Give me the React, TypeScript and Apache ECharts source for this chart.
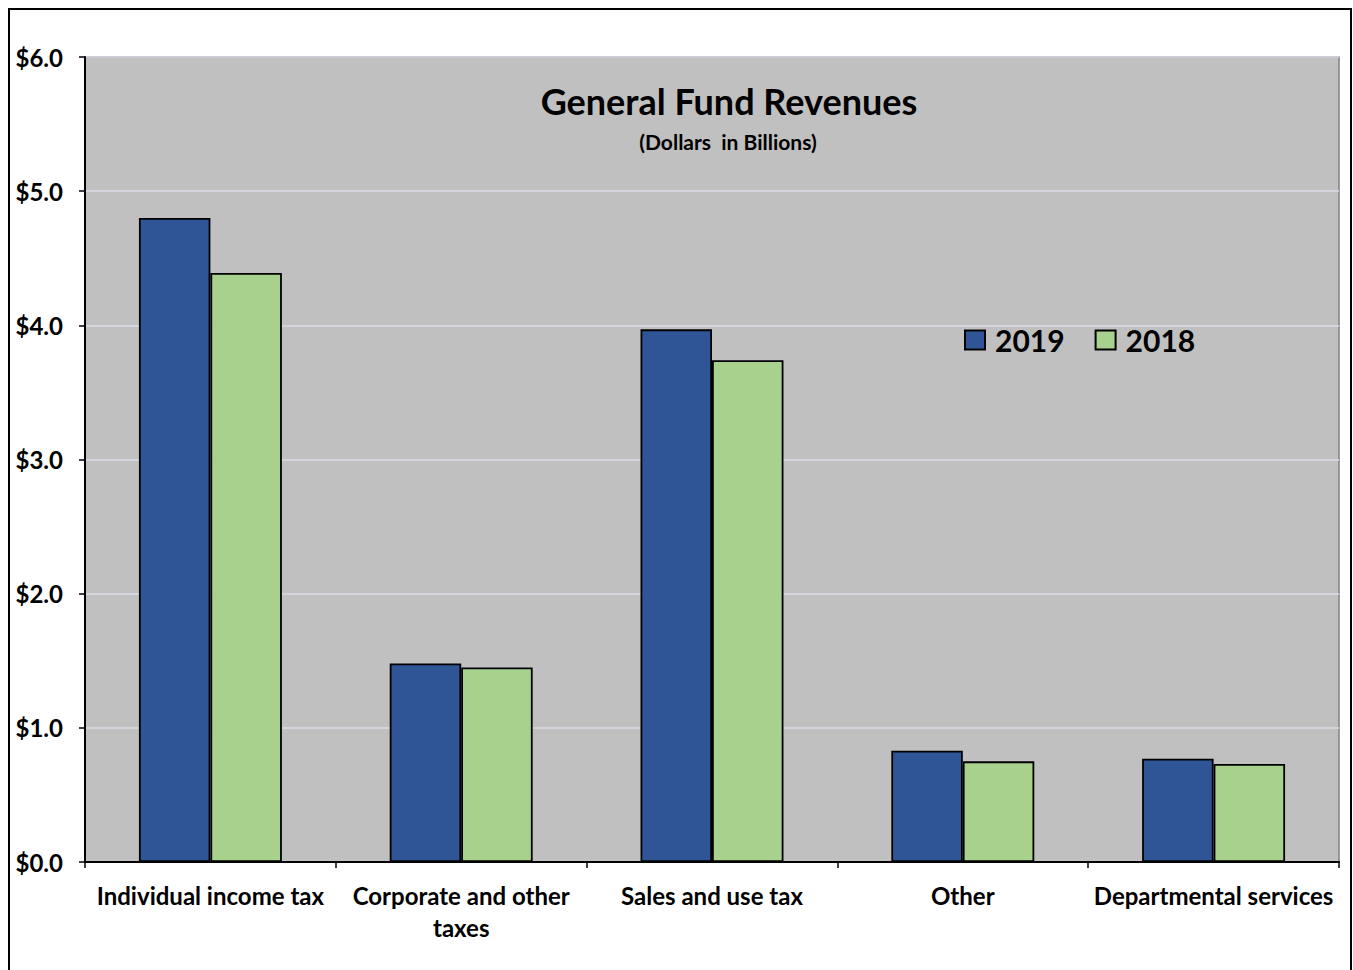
import React, { useEffect, useRef } from "react";
import * as echarts from "echarts";

const categories = [
  "Individual income tax",
  "Corporate and other\ntaxes",
  "Sales and use tax",
  "Other",
  "Departmental services",
];
const values2019 = [4.8, 1.48, 3.97, 0.83, 0.77];
const values2018 = [4.39, 1.45, 3.74, 0.75, 0.73];
const seriesNames = ["2019", "2018"];
const yTicks = { min: 0, max: 6, interval: 1 };

const FONT = "Lato, 'Open Sans', sans-serif";

export default function App() {
  const ref = useRef<HTMLDivElement>(null);
  useEffect(() => {
    if (!ref.current) return;
    const chart = echarts.init(ref.current, null, { renderer: "svg" });
    chart.setOption({
      animation: false,
      backgroundColor: "#ffffff",
      textStyle: { fontFamily: FONT },
      grid: {
        left: 85,
        top: 57,
        right: 14,
        bottom: 108,
        show: true,
        backgroundColor: "#C0C0C0",
        borderColor: "#808080",
        borderWidth: 1.5,
        containLabel: false,
      },
      legend: {
        left: 959,
        top: 320,
        icon: "rect",
        itemWidth: 20,
        itemHeight: 19,
        itemGap: 30,
        data: seriesNames,
        textStyle: {
          fontSize: 30,
          fontWeight: "bold",
          color: "#000",
          fontFamily: FONT,
          padding: [0, 0, 0, 5],
        },
      },
      xAxis: {
        type: "category",
        data: categories,
        axisLine: { show: true, lineStyle: { color: "#000", width: 2 } },
        axisTick: { show: true, alignWithLabel: false, length: 6, lineStyle: { color: "#000", width: 1.5 } },
        axisLabel: {
          interval: 0,
          margin: 17,
          fontSize: 24,
          fontWeight: "bold",
          color: "#000",
          lineHeight: 32,
          fontFamily: FONT,
        },
        splitLine: { show: false },
      },
      yAxis: {
        type: "value",
        min: yTicks.min,
        max: yTicks.max,
        interval: yTicks.interval,
        axisLine: { show: true, lineStyle: { color: "#000", width: 2 } },
        axisTick: { show: true, length: 6, lineStyle: { color: "#000", width: 1.5 } },
        axisLabel: {
          margin: 22,
          fontSize: 24,
          fontWeight: "bold",
          color: "#000",
          fontFamily: FONT,
          formatter: (v: number) => "$" + v.toFixed(1),
        },
        splitLine: { show: true, lineStyle: { color: "#DCDCE8", width: 1.5 } },
      },
      series: [
        {
          name: seriesNames[0],
          type: "bar",
          data: values2019,
          barGap: "0%",
          barCategoryGap: "43%",
          itemStyle: { color: "#2F5597", borderColor: "#000", borderWidth: 1.8 },
        },
        {
          name: seriesNames[1],
          type: "bar",
          data: values2018,
          barGap: "0%",
          barCategoryGap: "43%",
          itemStyle: { color: "#A9D18E", borderColor: "#000", borderWidth: 1.8 },
        },
      ],
      graphic: [
        {
          type: "rect",
          shape: { x: 9, y: 9, width: 1342, height: 990 },
          style: { fill: "none", stroke: "#000", lineWidth: 2 },
          silent: true,
        },
        {
          type: "text",
          x: 729,
          y: 101,
          style: {
            text: "General Fund Revenues",
            font: "bold 36px " + FONT,
            fill: "#000",
            textAlign: "center",
            textVerticalAlign: "middle",
          },
        },
        {
          type: "text",
          x: 728,
          y: 141,
          style: {
            text: "(Dollars  in Billions)",
            font: "bold 21px " + FONT,
            fill: "#000",
            textAlign: "center",
            textVerticalAlign: "middle",
          },
        },
      ],
    });
    return () => chart.dispose();
  }, []);
  return (
    <div
      ref={ref}
      style={{ position: "fixed", left: 0, top: 0, width: 1353, height: 970 }}
    />
  );
}
